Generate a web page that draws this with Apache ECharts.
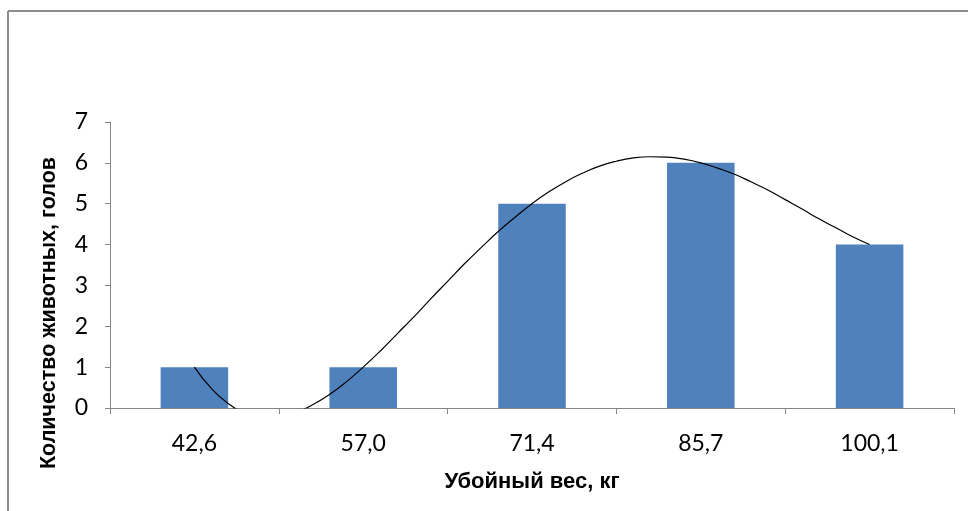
<!DOCTYPE html>
<html>
<head>
<meta charset="utf-8">
<script src="https://cdn.jsdelivr.net/npm/echarts@6/dist/echarts.min.js"></script>
<style>html,body{margin:0;padding:0;background:#fff}#c{width:968px;height:511px}</style>
</head>
<body>
<div id="c"></div>
<script>
var categories = ['42,6', '57,0', '71,4', '85,7', '100,1'];
var counts = [1, 1, 5, 6, 4];
var yTicks = [0, 1, 2, 3, 4, 5, 6, 7];
// trend curve: [category position (1..5), value]
var trend = [
  [1.0, 1.00], [1.1, 0.48], [1.2, 0.11], [1.3, -0.12], [1.4, -0.22], [1.5, -0.21],
  [1.6, -0.11], [1.7, 0.08], [1.8, 0.33], [1.9, 0.64], [2.0, 1.00], [2.1, 1.39],
  [2.2, 1.81], [2.3, 2.23], [2.4, 2.67], [2.5, 3.10], [2.6, 3.53], [2.7, 3.93],
  [2.8, 4.32], [2.9, 4.67], [3.0, 5.00], [3.1, 5.29], [3.2, 5.54], [3.3, 5.75],
  [3.4, 5.92], [3.5, 6.04], [3.6, 6.12], [3.7, 6.15], [3.8, 6.14], [3.9, 6.09],
  [4.0, 6.00], [4.1, 5.87], [4.2, 5.72], [4.3, 5.53], [4.4, 5.33], [4.5, 5.10],
  [4.6, 4.87], [4.7, 4.63], [4.8, 4.41], [4.9, 4.19], [5.0, 4.00]
];

var chart = echarts.init(document.getElementById('c'));
var axisGray = '#868686';
var option = {
  animation: false,
  backgroundColor: '#fff',
  grid: { left: 110, right: 14, top: 122, bottom: 103, containLabel: false },
  xAxis: [{
    type: 'category',
    data: categories,
    boundaryGap: true,
    name: 'Убойный вес, кг',
    nameLocation: 'middle',
    nameGap: 63,
    nameTextStyle: { fontFamily: 'Liberation Sans', fontWeight: 'bold', fontSize: 22, color: '#000' },
    axisLine: { lineStyle: { color: axisGray, width: 1 } },
    axisTick: { show: true, length: 6, lineStyle: { color: axisGray } },
    axisLabel: { fontFamily: 'Lato', fontSize: 23, color: '#000', margin: 24 },
    splitLine: { show: false }
  }, {
    type: 'value',
    min: 0.5,
    max: 5.5,
    show: false
  }],
  yAxis: {
    type: 'value',
    min: yTicks[0],
    max: yTicks[yTicks.length - 1],
    interval: 1,
    name: 'Количество животных, голов',
    nameLocation: 'middle',
    nameGap: 50,
    nameRotate: 90,
    nameTextStyle: { fontFamily: 'Liberation Sans', fontWeight: 'bold', fontSize: 21.5, color: '#000', padding: [0, 96, 0, 0] },
    axisLine: { show: true, lineStyle: { color: axisGray, width: 1 } },
    axisTick: { show: true, length: 5, lineStyle: { color: axisGray } },
    axisLabel: { fontFamily: 'Lato', fontSize: 23, color: '#000', margin: 22 },
    splitLine: { show: false }
  },
  series: [{
    type: 'bar',
    data: counts,
    barWidth: '40%',
    itemStyle: { color: '#4F81BD' },
    xAxisIndex: 0
  }, {
    type: 'line',
    data: trend,
    xAxisIndex: 1,
    showSymbol: false,
    smooth: true,
    clip: true,
    lineStyle: { color: '#000', width: 1.2 },
    z: 5
  }],
  graphic: [
    { type: 'line', shape: { x1: 8, y1: 11, x2: 968, y2: 11 }, style: { stroke: '#8c8c8c', lineWidth: 2 } },
    { type: 'line', shape: { x1: 8, y1: 11, x2: 8, y2: 511 }, style: { stroke: '#8c8c8c', lineWidth: 2 } }
  ]
};
chart.setOption(option);
</script>
</body>
</html>
